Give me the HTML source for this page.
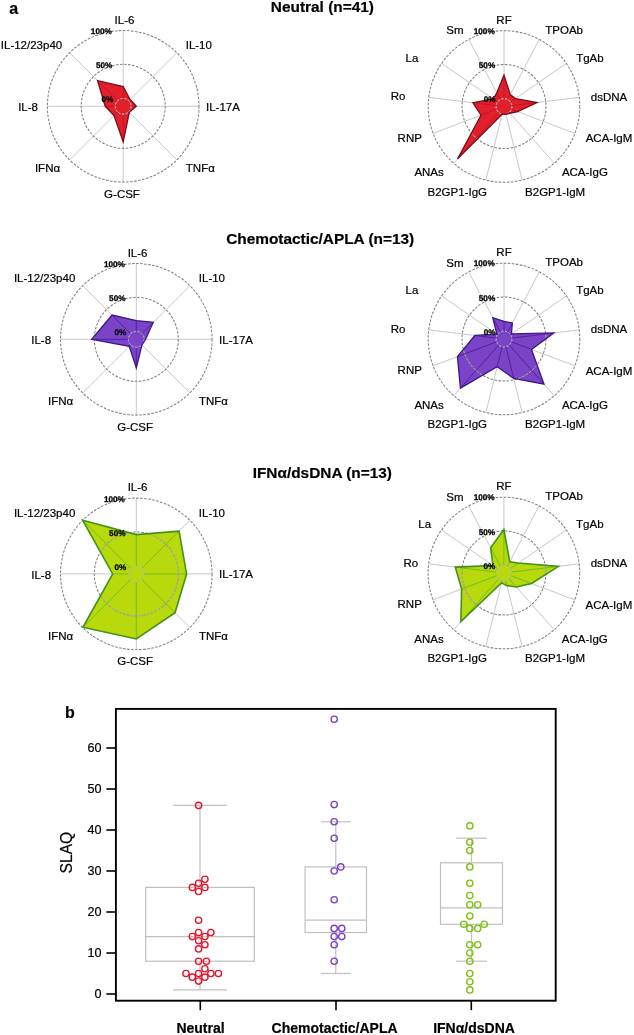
<!DOCTYPE html>
<html><head><meta charset="utf-8"><title>Figure</title>
<style>
html,body{margin:0;padding:0;background:#fff;}
body{width:634px;height:1035px;overflow:hidden;font-family:"Liberation Sans",sans-serif;}
svg{display:block;will-change:transform;}
text{font-family:"Liberation Sans",sans-serif;fill:#000;stroke:#000;stroke-width:0.2px;}
.lb{font-size:11.5px;}
.tk{font-size:8.2px;font-weight:bold;stroke-width:0.28px;text-rendering:geometricPrecision;}
.tt{font-size:15.4px;font-weight:bold;}
.pl{font-size:16px;font-weight:bold;}
.ax{font-size:12.6px;}
.xl{font-size:14px;font-weight:bold;}
.yl{font-size:15.6px;}
</style></head><body>
<svg width="634" height="1035" viewBox="0 0 634 1035">
<rect width="634" height="1035" fill="#fff"/>
<line x1="123.20" y1="98.40" x2="123.20" y2="30.50" stroke="#c8c8c8" stroke-width="1"/>
<line x1="128.79" y1="100.71" x2="176.80" y2="52.70" stroke="#c8c8c8" stroke-width="1"/>
<line x1="131.10" y1="106.30" x2="199.00" y2="106.30" stroke="#c8c8c8" stroke-width="1"/>
<line x1="128.79" y1="111.89" x2="176.80" y2="159.90" stroke="#c8c8c8" stroke-width="1"/>
<line x1="123.20" y1="114.20" x2="123.20" y2="182.10" stroke="#c8c8c8" stroke-width="1"/>
<line x1="117.61" y1="111.89" x2="69.60" y2="159.90" stroke="#c8c8c8" stroke-width="1"/>
<line x1="115.30" y1="106.30" x2="47.40" y2="106.30" stroke="#c8c8c8" stroke-width="1"/>
<line x1="117.61" y1="100.71" x2="69.60" y2="52.70" stroke="#c8c8c8" stroke-width="1"/>
<clipPath id="c123_106"><polygon points="123.20,86.50 130.06,99.44 136.30,106.30 129.28,112.38 123.20,141.90 114.01,115.49 105.30,106.30 97.53,80.63"/></clipPath>
<polygon points="123.20,86.50 130.06,99.44 136.30,106.30 129.28,112.38 123.20,141.90 114.01,115.49 105.30,106.30 97.53,80.63" fill="#e2202c" stroke="none"/>
<g clip-path="url(#c123_106)">
<line x1="123.20" y1="98.40" x2="123.20" y2="30.50" stroke="#c51426" stroke-width="1"/>
<line x1="128.79" y1="100.71" x2="176.80" y2="52.70" stroke="#c51426" stroke-width="1"/>
<line x1="131.10" y1="106.30" x2="199.00" y2="106.30" stroke="#c51426" stroke-width="1"/>
<line x1="128.79" y1="111.89" x2="176.80" y2="159.90" stroke="#c51426" stroke-width="1"/>
<line x1="123.20" y1="114.20" x2="123.20" y2="182.10" stroke="#c51426" stroke-width="1"/>
<line x1="117.61" y1="111.89" x2="69.60" y2="159.90" stroke="#c51426" stroke-width="1"/>
<line x1="115.30" y1="106.30" x2="47.40" y2="106.30" stroke="#c51426" stroke-width="1"/>
<line x1="117.61" y1="100.71" x2="69.60" y2="52.70" stroke="#c51426" stroke-width="1"/>
</g>
<circle cx="123.20" cy="106.30" r="42.0" fill="none" stroke="#808080" stroke-width="1.05" stroke-dasharray="2.6 1.45"/>
<circle cx="123.20" cy="106.30" r="75.8" fill="none" stroke="#808080" stroke-width="1.05" stroke-dasharray="2.6 1.45"/>
<circle cx="123.20" cy="106.30" r="7.9" fill="none" stroke="#b8b8b8" stroke-width="0.9" stroke-dasharray="2.2 1.6"/>
<g clip-path="url(#c123_106)">
<circle cx="123.20" cy="106.30" r="7.9" fill="none" stroke="#b9acba" stroke-width="1" stroke-dasharray="2.2 1.6"/>
<circle cx="123.20" cy="106.30" r="42.0" fill="none" stroke="#b9acba" stroke-width="1" stroke-dasharray="2.6 1.45"/>
<circle cx="123.20" cy="106.30" r="75.8" fill="none" stroke="#b9acba" stroke-width="1" stroke-dasharray="2.6 1.45"/>
</g>
<polygon points="123.20,86.50 130.06,99.44 136.30,106.30 129.28,112.38 123.20,141.90 114.01,115.49 105.30,106.30 97.53,80.63" fill="none" stroke="#7c0c1c" stroke-width="1.3" stroke-linejoin="miter"/>
<text x="111.8" y="33.89999999999999" text-anchor="end" class="tk">100%</text>
<text x="112.4" y="68.0" text-anchor="end" class="tk">50%</text>
<text x="113.3" y="102.1" text-anchor="end" class="tk">0%</text>
<text x="124.5" y="23.799999999999997" text-anchor="middle" class="lb">IL-6</text>
<text x="185.7" y="49.099999999999994" text-anchor="start" class="lb">IL-10</text>
<text x="206.0" y="110.8" text-anchor="start" class="lb">IL-17A</text>
<text x="185.8" y="172.39999999999998" text-anchor="start" class="lb">TNFα</text>
<text x="122.0" y="197.6" text-anchor="middle" class="lb">G-CSF</text>
<text x="60.1" y="172.39999999999998" text-anchor="end" class="lb">IFNα</text>
<text x="38.0" y="110.89999999999999" text-anchor="end" class="lb">IL-8</text>
<text x="62.2" y="49.0" text-anchor="end" class="lb">IL-12/23p40</text>
<line x1="504.00" y1="98.60" x2="504.00" y2="30.70" stroke="#c8c8c8" stroke-width="1"/>
<line x1="507.67" y1="99.50" x2="539.23" y2="39.38" stroke="#c8c8c8" stroke-width="1"/>
<line x1="510.50" y1="102.01" x2="566.38" y2="63.44" stroke="#c8c8c8" stroke-width="1"/>
<line x1="511.84" y1="105.55" x2="579.25" y2="97.36" stroke="#c8c8c8" stroke-width="1"/>
<line x1="511.39" y1="109.30" x2="574.87" y2="133.38" stroke="#c8c8c8" stroke-width="1"/>
<line x1="509.24" y1="112.41" x2="554.26" y2="163.24" stroke="#c8c8c8" stroke-width="1"/>
<line x1="505.89" y1="114.17" x2="522.14" y2="180.10" stroke="#c8c8c8" stroke-width="1"/>
<line x1="502.11" y1="114.17" x2="485.86" y2="180.10" stroke="#c8c8c8" stroke-width="1"/>
<line x1="498.76" y1="112.41" x2="453.74" y2="163.24" stroke="#c8c8c8" stroke-width="1"/>
<line x1="496.61" y1="109.30" x2="433.13" y2="133.38" stroke="#c8c8c8" stroke-width="1"/>
<line x1="496.16" y1="105.55" x2="428.75" y2="97.36" stroke="#c8c8c8" stroke-width="1"/>
<line x1="497.50" y1="102.01" x2="441.62" y2="63.44" stroke="#c8c8c8" stroke-width="1"/>
<line x1="500.33" y1="99.50" x2="468.77" y2="39.38" stroke="#c8c8c8" stroke-width="1"/>
<clipPath id="c504_106"><polygon points="504.00,75.10 510.23,94.63 515.44,98.60 537.06,102.49 517.65,111.68 509.97,113.24 505.91,114.27 502.09,114.27 457.58,158.90 481.00,115.22 472.93,102.73 493.14,99.00 496.84,92.86"/></clipPath>
<polygon points="504.00,75.10 510.23,94.63 515.44,98.60 537.06,102.49 517.65,111.68 509.97,113.24 505.91,114.27 502.09,114.27 457.58,158.90 481.00,115.22 472.93,102.73 493.14,99.00 496.84,92.86" fill="#e2202c" stroke="none"/>
<g clip-path="url(#c504_106)">
<line x1="504.00" y1="98.60" x2="504.00" y2="30.70" stroke="#c51426" stroke-width="1"/>
<line x1="507.67" y1="99.50" x2="539.23" y2="39.38" stroke="#c51426" stroke-width="1"/>
<line x1="510.50" y1="102.01" x2="566.38" y2="63.44" stroke="#c51426" stroke-width="1"/>
<line x1="511.84" y1="105.55" x2="579.25" y2="97.36" stroke="#c51426" stroke-width="1"/>
<line x1="511.39" y1="109.30" x2="574.87" y2="133.38" stroke="#c51426" stroke-width="1"/>
<line x1="509.24" y1="112.41" x2="554.26" y2="163.24" stroke="#c51426" stroke-width="1"/>
<line x1="505.89" y1="114.17" x2="522.14" y2="180.10" stroke="#c51426" stroke-width="1"/>
<line x1="502.11" y1="114.17" x2="485.86" y2="180.10" stroke="#c51426" stroke-width="1"/>
<line x1="498.76" y1="112.41" x2="453.74" y2="163.24" stroke="#c51426" stroke-width="1"/>
<line x1="496.61" y1="109.30" x2="433.13" y2="133.38" stroke="#c51426" stroke-width="1"/>
<line x1="496.16" y1="105.55" x2="428.75" y2="97.36" stroke="#c51426" stroke-width="1"/>
<line x1="497.50" y1="102.01" x2="441.62" y2="63.44" stroke="#c51426" stroke-width="1"/>
<line x1="500.33" y1="99.50" x2="468.77" y2="39.38" stroke="#c51426" stroke-width="1"/>
</g>
<circle cx="504.00" cy="106.50" r="42.0" fill="none" stroke="#808080" stroke-width="1.05" stroke-dasharray="2.6 1.45"/>
<circle cx="504.00" cy="106.50" r="75.8" fill="none" stroke="#808080" stroke-width="1.05" stroke-dasharray="2.6 1.45"/>
<circle cx="504.00" cy="106.50" r="7.9" fill="none" stroke="#b8b8b8" stroke-width="0.9" stroke-dasharray="2.2 1.6"/>
<g clip-path="url(#c504_106)">
<circle cx="504.00" cy="106.50" r="7.9" fill="none" stroke="#b9acba" stroke-width="1" stroke-dasharray="2.2 1.6"/>
<circle cx="504.00" cy="106.50" r="42.0" fill="none" stroke="#b9acba" stroke-width="1" stroke-dasharray="2.6 1.45"/>
<circle cx="504.00" cy="106.50" r="75.8" fill="none" stroke="#b9acba" stroke-width="1" stroke-dasharray="2.6 1.45"/>
</g>
<polygon points="504.00,75.10 510.23,94.63 515.44,98.60 537.06,102.49 517.65,111.68 509.97,113.24 505.91,114.27 502.09,114.27 457.58,158.90 481.00,115.22 472.93,102.73 493.14,99.00 496.84,92.86" fill="none" stroke="#7c0c1c" stroke-width="1.3" stroke-linejoin="miter"/>
<text x="494.7" y="33.900000000000006" text-anchor="end" class="tk">100%</text>
<text x="495.2" y="68.2" text-anchor="end" class="tk">50%</text>
<text x="495.5" y="102.1" text-anchor="end" class="tk">0%</text>
<text x="504.0" y="23.599999999999994" text-anchor="middle" class="lb">RF</text>
<text x="545.3" y="33.5" text-anchor="start" class="lb">TPOAb</text>
<text x="576.2" y="61.6" text-anchor="start" class="lb">TgAb</text>
<text x="590.8" y="100.5" text-anchor="start" class="lb">dsDNA</text>
<text x="585.7" y="142.0" text-anchor="start" class="lb">ACA-IgM</text>
<text x="561.9" y="176.0" text-anchor="start" class="lb">ACA-IgG</text>
<text x="525.1" y="195.9" text-anchor="start" class="lb">B2GP1-IgM</text>
<text x="487.0" y="195.5" text-anchor="end" class="lb">B2GP1-IgG</text>
<text x="443.8" y="176.0" text-anchor="end" class="lb">ANAs</text>
<text x="421.9" y="141.5" text-anchor="end" class="lb">RNP</text>
<text x="405.5" y="100.2" text-anchor="end" class="lb">Ro</text>
<text x="418.4" y="61.5" text-anchor="end" class="lb">La</text>
<text x="463.6" y="34.0" text-anchor="end" class="lb">Sm</text>
<line x1="136.30" y1="331.40" x2="136.30" y2="263.50" stroke="#c8c8c8" stroke-width="1"/>
<line x1="141.89" y1="333.71" x2="189.90" y2="285.70" stroke="#c8c8c8" stroke-width="1"/>
<line x1="144.20" y1="339.30" x2="212.10" y2="339.30" stroke="#c8c8c8" stroke-width="1"/>
<line x1="141.89" y1="344.89" x2="189.90" y2="392.90" stroke="#c8c8c8" stroke-width="1"/>
<line x1="136.30" y1="347.20" x2="136.30" y2="415.10" stroke="#c8c8c8" stroke-width="1"/>
<line x1="130.71" y1="344.89" x2="82.70" y2="392.90" stroke="#c8c8c8" stroke-width="1"/>
<line x1="128.40" y1="339.30" x2="60.50" y2="339.30" stroke="#c8c8c8" stroke-width="1"/>
<line x1="130.71" y1="333.71" x2="82.70" y2="285.70" stroke="#c8c8c8" stroke-width="1"/>
<clipPath id="c136_339"><polygon points="136.30,320.60 153.20,322.40 145.60,339.30 141.96,344.96 136.30,367.90 129.23,346.37 91.70,339.30 112.05,315.05"/></clipPath>
<polygon points="136.30,320.60 153.20,322.40 145.60,339.30 141.96,344.96 136.30,367.90 129.23,346.37 91.70,339.30 112.05,315.05" fill="#7a43c8" stroke="none"/>
<g clip-path="url(#c136_339)">
<line x1="136.30" y1="331.40" x2="136.30" y2="263.50" stroke="#5220a4" stroke-width="1"/>
<line x1="141.89" y1="333.71" x2="189.90" y2="285.70" stroke="#5220a4" stroke-width="1"/>
<line x1="144.20" y1="339.30" x2="212.10" y2="339.30" stroke="#5220a4" stroke-width="1"/>
<line x1="141.89" y1="344.89" x2="189.90" y2="392.90" stroke="#5220a4" stroke-width="1"/>
<line x1="136.30" y1="347.20" x2="136.30" y2="415.10" stroke="#5220a4" stroke-width="1"/>
<line x1="130.71" y1="344.89" x2="82.70" y2="392.90" stroke="#5220a4" stroke-width="1"/>
<line x1="128.40" y1="339.30" x2="60.50" y2="339.30" stroke="#5220a4" stroke-width="1"/>
<line x1="130.71" y1="333.71" x2="82.70" y2="285.70" stroke="#5220a4" stroke-width="1"/>
</g>
<circle cx="136.30" cy="339.30" r="42.0" fill="none" stroke="#808080" stroke-width="1.05" stroke-dasharray="2.6 1.45"/>
<circle cx="136.30" cy="339.30" r="75.8" fill="none" stroke="#808080" stroke-width="1.05" stroke-dasharray="2.6 1.45"/>
<circle cx="136.30" cy="339.30" r="7.9" fill="none" stroke="#b8b8b8" stroke-width="0.9" stroke-dasharray="2.2 1.6"/>
<g clip-path="url(#c136_339)">
<circle cx="136.30" cy="339.30" r="7.9" fill="none" stroke="#a9aa8e" stroke-width="1" stroke-dasharray="2.2 1.6"/>
<circle cx="136.30" cy="339.30" r="42.0" fill="none" stroke="#a9aa8e" stroke-width="1" stroke-dasharray="2.6 1.45"/>
<circle cx="136.30" cy="339.30" r="75.8" fill="none" stroke="#a9aa8e" stroke-width="1" stroke-dasharray="2.6 1.45"/>
</g>
<polygon points="136.30,320.60 153.20,322.40 145.60,339.30 141.96,344.96 136.30,367.90 129.23,346.37 91.70,339.30 112.05,315.05" fill="none" stroke="#3d1585" stroke-width="1.3" stroke-linejoin="miter"/>
<text x="124.9" y="266.9" text-anchor="end" class="tk">100%</text>
<text x="125.50000000000001" y="301.0" text-anchor="end" class="tk">50%</text>
<text x="126.4" y="335.1" text-anchor="end" class="tk">0%</text>
<text x="137.60000000000002" y="256.8" text-anchor="middle" class="lb">IL-6</text>
<text x="198.8" y="282.1" text-anchor="start" class="lb">IL-10</text>
<text x="219.10000000000002" y="343.8" text-anchor="start" class="lb">IL-17A</text>
<text x="198.9" y="405.4" text-anchor="start" class="lb">TNFα</text>
<text x="135.10000000000002" y="430.6" text-anchor="middle" class="lb">G-CSF</text>
<text x="73.20000000000002" y="405.4" text-anchor="end" class="lb">IFNα</text>
<text x="51.10000000000001" y="343.90000000000003" text-anchor="end" class="lb">IL-8</text>
<text x="75.30000000000001" y="282.0" text-anchor="end" class="lb">IL-12/23p40</text>
<line x1="504.00" y1="331.10" x2="504.00" y2="263.20" stroke="#c8c8c8" stroke-width="1"/>
<line x1="507.67" y1="332.00" x2="539.23" y2="271.88" stroke="#c8c8c8" stroke-width="1"/>
<line x1="510.50" y1="334.51" x2="566.38" y2="295.94" stroke="#c8c8c8" stroke-width="1"/>
<line x1="511.84" y1="338.05" x2="579.25" y2="329.86" stroke="#c8c8c8" stroke-width="1"/>
<line x1="511.39" y1="341.80" x2="574.87" y2="365.88" stroke="#c8c8c8" stroke-width="1"/>
<line x1="509.24" y1="344.91" x2="554.26" y2="395.74" stroke="#c8c8c8" stroke-width="1"/>
<line x1="505.89" y1="346.67" x2="522.14" y2="412.60" stroke="#c8c8c8" stroke-width="1"/>
<line x1="502.11" y1="346.67" x2="485.86" y2="412.60" stroke="#c8c8c8" stroke-width="1"/>
<line x1="498.76" y1="344.91" x2="453.74" y2="395.74" stroke="#c8c8c8" stroke-width="1"/>
<line x1="496.61" y1="341.80" x2="433.13" y2="365.88" stroke="#c8c8c8" stroke-width="1"/>
<line x1="496.16" y1="338.05" x2="428.75" y2="329.86" stroke="#c8c8c8" stroke-width="1"/>
<line x1="497.50" y1="334.51" x2="441.62" y2="295.94" stroke="#c8c8c8" stroke-width="1"/>
<line x1="500.33" y1="332.00" x2="468.77" y2="271.88" stroke="#c8c8c8" stroke-width="1"/>
<clipPath id="c504_339"><polygon points="504.00,321.30 512.37,323.06 511.41,333.89 553.83,332.95 531.49,349.43 543.99,384.14 513.72,378.42 497.18,366.67 460.43,388.18 457.44,356.66 474.91,335.47 496.84,334.06 492.80,317.66"/></clipPath>
<polygon points="504.00,321.30 512.37,323.06 511.41,333.89 553.83,332.95 531.49,349.43 543.99,384.14 513.72,378.42 497.18,366.67 460.43,388.18 457.44,356.66 474.91,335.47 496.84,334.06 492.80,317.66" fill="#7a43c8" stroke="none"/>
<g clip-path="url(#c504_339)">
<line x1="504.00" y1="331.10" x2="504.00" y2="263.20" stroke="#5220a4" stroke-width="1"/>
<line x1="507.67" y1="332.00" x2="539.23" y2="271.88" stroke="#5220a4" stroke-width="1"/>
<line x1="510.50" y1="334.51" x2="566.38" y2="295.94" stroke="#5220a4" stroke-width="1"/>
<line x1="511.84" y1="338.05" x2="579.25" y2="329.86" stroke="#5220a4" stroke-width="1"/>
<line x1="511.39" y1="341.80" x2="574.87" y2="365.88" stroke="#5220a4" stroke-width="1"/>
<line x1="509.24" y1="344.91" x2="554.26" y2="395.74" stroke="#5220a4" stroke-width="1"/>
<line x1="505.89" y1="346.67" x2="522.14" y2="412.60" stroke="#5220a4" stroke-width="1"/>
<line x1="502.11" y1="346.67" x2="485.86" y2="412.60" stroke="#5220a4" stroke-width="1"/>
<line x1="498.76" y1="344.91" x2="453.74" y2="395.74" stroke="#5220a4" stroke-width="1"/>
<line x1="496.61" y1="341.80" x2="433.13" y2="365.88" stroke="#5220a4" stroke-width="1"/>
<line x1="496.16" y1="338.05" x2="428.75" y2="329.86" stroke="#5220a4" stroke-width="1"/>
<line x1="497.50" y1="334.51" x2="441.62" y2="295.94" stroke="#5220a4" stroke-width="1"/>
<line x1="500.33" y1="332.00" x2="468.77" y2="271.88" stroke="#5220a4" stroke-width="1"/>
</g>
<circle cx="504.00" cy="339.00" r="42.0" fill="none" stroke="#808080" stroke-width="1.05" stroke-dasharray="2.6 1.45"/>
<circle cx="504.00" cy="339.00" r="75.8" fill="none" stroke="#808080" stroke-width="1.05" stroke-dasharray="2.6 1.45"/>
<circle cx="504.00" cy="339.00" r="7.9" fill="none" stroke="#b8b8b8" stroke-width="0.9" stroke-dasharray="2.2 1.6"/>
<g clip-path="url(#c504_339)">
<circle cx="504.00" cy="339.00" r="7.9" fill="none" stroke="#a9aa8e" stroke-width="1" stroke-dasharray="2.2 1.6"/>
<circle cx="504.00" cy="339.00" r="42.0" fill="none" stroke="#a9aa8e" stroke-width="1" stroke-dasharray="2.6 1.45"/>
<circle cx="504.00" cy="339.00" r="75.8" fill="none" stroke="#a9aa8e" stroke-width="1" stroke-dasharray="2.6 1.45"/>
</g>
<polygon points="504.00,321.30 512.37,323.06 511.41,333.89 553.83,332.95 531.49,349.43 543.99,384.14 513.72,378.42 497.18,366.67 460.43,388.18 457.44,356.66 474.91,335.47 496.84,334.06 492.80,317.66" fill="none" stroke="#3d1585" stroke-width="1.3" stroke-linejoin="miter"/>
<text x="494.7" y="266.4" text-anchor="end" class="tk">100%</text>
<text x="495.2" y="300.7" text-anchor="end" class="tk">50%</text>
<text x="495.5" y="334.6" text-anchor="end" class="tk">0%</text>
<text x="504.0" y="256.1" text-anchor="middle" class="lb">RF</text>
<text x="545.3" y="266.0" text-anchor="start" class="lb">TPOAb</text>
<text x="576.2" y="294.1" text-anchor="start" class="lb">TgAb</text>
<text x="590.8" y="333.0" text-anchor="start" class="lb">dsDNA</text>
<text x="585.7" y="374.5" text-anchor="start" class="lb">ACA-IgM</text>
<text x="561.9" y="408.5" text-anchor="start" class="lb">ACA-IgG</text>
<text x="525.1" y="428.4" text-anchor="start" class="lb">B2GP1-IgM</text>
<text x="487.0" y="428.0" text-anchor="end" class="lb">B2GP1-IgG</text>
<text x="443.8" y="408.5" text-anchor="end" class="lb">ANAs</text>
<text x="421.9" y="374.0" text-anchor="end" class="lb">RNP</text>
<text x="405.5" y="332.7" text-anchor="end" class="lb">Ro</text>
<text x="418.4" y="294.0" text-anchor="end" class="lb">La</text>
<text x="463.6" y="266.5" text-anchor="end" class="lb">Sm</text>
<line x1="136.30" y1="566.00" x2="136.30" y2="498.10" stroke="#c8c8c8" stroke-width="1"/>
<line x1="141.89" y1="568.31" x2="189.90" y2="520.30" stroke="#c8c8c8" stroke-width="1"/>
<line x1="144.20" y1="573.90" x2="212.10" y2="573.90" stroke="#c8c8c8" stroke-width="1"/>
<line x1="141.89" y1="579.49" x2="189.90" y2="627.50" stroke="#c8c8c8" stroke-width="1"/>
<line x1="136.30" y1="581.80" x2="136.30" y2="649.70" stroke="#c8c8c8" stroke-width="1"/>
<line x1="130.71" y1="579.49" x2="82.70" y2="627.50" stroke="#c8c8c8" stroke-width="1"/>
<line x1="128.40" y1="573.90" x2="60.50" y2="573.90" stroke="#c8c8c8" stroke-width="1"/>
<line x1="130.71" y1="568.31" x2="82.70" y2="520.30" stroke="#c8c8c8" stroke-width="1"/>
<clipPath id="c136_573"><polygon points="136.30,534.60 179.08,531.12 186.60,573.90 175.05,612.65 136.30,639.00 82.91,627.29 112.70,573.90 82.63,520.23"/></clipPath>
<polygon points="136.30,534.60 179.08,531.12 186.60,573.90 175.05,612.65 136.30,639.00 82.91,627.29 112.70,573.90 82.63,520.23" fill="#b8d90c" stroke="none"/>
<g clip-path="url(#c136_573)">
<line x1="136.30" y1="566.00" x2="136.30" y2="498.10" stroke="#72bf1c" stroke-width="1"/>
<line x1="141.89" y1="568.31" x2="189.90" y2="520.30" stroke="#72bf1c" stroke-width="1"/>
<line x1="144.20" y1="573.90" x2="212.10" y2="573.90" stroke="#72bf1c" stroke-width="1"/>
<line x1="141.89" y1="579.49" x2="189.90" y2="627.50" stroke="#72bf1c" stroke-width="1"/>
<line x1="136.30" y1="581.80" x2="136.30" y2="649.70" stroke="#72bf1c" stroke-width="1"/>
<line x1="130.71" y1="579.49" x2="82.70" y2="627.50" stroke="#72bf1c" stroke-width="1"/>
<line x1="128.40" y1="573.90" x2="60.50" y2="573.90" stroke="#72bf1c" stroke-width="1"/>
<line x1="130.71" y1="568.31" x2="82.70" y2="520.30" stroke="#72bf1c" stroke-width="1"/>
</g>
<circle cx="136.30" cy="573.90" r="42.0" fill="none" stroke="#808080" stroke-width="1.05" stroke-dasharray="2.6 1.45"/>
<circle cx="136.30" cy="573.90" r="75.8" fill="none" stroke="#808080" stroke-width="1.05" stroke-dasharray="2.6 1.45"/>
<circle cx="136.30" cy="573.90" r="7.9" fill="none" stroke="#b8b8b8" stroke-width="0.9" stroke-dasharray="2.2 1.6"/>
<g clip-path="url(#c136_573)">
<circle cx="136.30" cy="573.90" r="7.9" fill="none" stroke="#b2b6ba" stroke-width="1" stroke-dasharray="2.2 1.6"/>
<circle cx="136.30" cy="573.90" r="42.0" fill="none" stroke="#b2b6ba" stroke-width="1" stroke-dasharray="2.6 1.45"/>
<circle cx="136.30" cy="573.90" r="75.8" fill="none" stroke="#b2b6ba" stroke-width="1" stroke-dasharray="2.6 1.45"/>
</g>
<polygon points="136.30,534.60 179.08,531.12 186.60,573.90 175.05,612.65 136.30,639.00 82.91,627.29 112.70,573.90 82.63,520.23" fill="none" stroke="#43921a" stroke-width="1.6" stroke-linejoin="miter"/>
<text x="124.9" y="501.5" text-anchor="end" class="tk">100%</text>
<text x="125.50000000000001" y="535.6" text-anchor="end" class="tk">50%</text>
<text x="126.4" y="569.6999999999999" text-anchor="end" class="tk">0%</text>
<text x="137.60000000000002" y="491.4" text-anchor="middle" class="lb">IL-6</text>
<text x="198.8" y="516.6999999999999" text-anchor="start" class="lb">IL-10</text>
<text x="219.10000000000002" y="578.4" text-anchor="start" class="lb">IL-17A</text>
<text x="198.9" y="640.0" text-anchor="start" class="lb">TNFα</text>
<text x="135.10000000000002" y="665.1999999999999" text-anchor="middle" class="lb">G-CSF</text>
<text x="73.20000000000002" y="640.0" text-anchor="end" class="lb">IFNα</text>
<text x="51.10000000000001" y="578.5" text-anchor="end" class="lb">IL-8</text>
<text x="75.30000000000001" y="516.6" text-anchor="end" class="lb">IL-12/23p40</text>
<line x1="503.90" y1="565.10" x2="503.90" y2="497.20" stroke="#c8c8c8" stroke-width="1"/>
<line x1="507.57" y1="566.00" x2="539.13" y2="505.88" stroke="#c8c8c8" stroke-width="1"/>
<line x1="510.40" y1="568.51" x2="566.28" y2="529.94" stroke="#c8c8c8" stroke-width="1"/>
<line x1="511.74" y1="572.05" x2="579.15" y2="563.86" stroke="#c8c8c8" stroke-width="1"/>
<line x1="511.29" y1="575.80" x2="574.77" y2="599.88" stroke="#c8c8c8" stroke-width="1"/>
<line x1="509.14" y1="578.91" x2="554.16" y2="629.74" stroke="#c8c8c8" stroke-width="1"/>
<line x1="505.79" y1="580.67" x2="522.04" y2="646.60" stroke="#c8c8c8" stroke-width="1"/>
<line x1="502.01" y1="580.67" x2="485.76" y2="646.60" stroke="#c8c8c8" stroke-width="1"/>
<line x1="498.66" y1="578.91" x2="453.64" y2="629.74" stroke="#c8c8c8" stroke-width="1"/>
<line x1="496.51" y1="575.80" x2="433.03" y2="599.88" stroke="#c8c8c8" stroke-width="1"/>
<line x1="496.06" y1="572.05" x2="428.65" y2="563.86" stroke="#c8c8c8" stroke-width="1"/>
<line x1="497.40" y1="568.51" x2="441.52" y2="529.94" stroke="#c8c8c8" stroke-width="1"/>
<line x1="500.23" y1="566.00" x2="468.67" y2="505.88" stroke="#c8c8c8" stroke-width="1"/>
<clipPath id="c503_573"><polygon points="503.90,529.50 509.76,561.84 518.30,563.06 558.40,566.38 531.58,583.50 516.30,587.00 507.01,585.62 501.46,582.90 460.86,621.58 461.64,589.03 455.26,567.09 492.95,565.44 490.61,547.68"/></clipPath>
<polygon points="503.90,529.50 509.76,561.84 518.30,563.06 558.40,566.38 531.58,583.50 516.30,587.00 507.01,585.62 501.46,582.90 460.86,621.58 461.64,589.03 455.26,567.09 492.95,565.44 490.61,547.68" fill="#b8d90c" stroke="none"/>
<g clip-path="url(#c503_573)">
<line x1="503.90" y1="565.10" x2="503.90" y2="497.20" stroke="#72bf1c" stroke-width="1"/>
<line x1="507.57" y1="566.00" x2="539.13" y2="505.88" stroke="#72bf1c" stroke-width="1"/>
<line x1="510.40" y1="568.51" x2="566.28" y2="529.94" stroke="#72bf1c" stroke-width="1"/>
<line x1="511.74" y1="572.05" x2="579.15" y2="563.86" stroke="#72bf1c" stroke-width="1"/>
<line x1="511.29" y1="575.80" x2="574.77" y2="599.88" stroke="#72bf1c" stroke-width="1"/>
<line x1="509.14" y1="578.91" x2="554.16" y2="629.74" stroke="#72bf1c" stroke-width="1"/>
<line x1="505.79" y1="580.67" x2="522.04" y2="646.60" stroke="#72bf1c" stroke-width="1"/>
<line x1="502.01" y1="580.67" x2="485.76" y2="646.60" stroke="#72bf1c" stroke-width="1"/>
<line x1="498.66" y1="578.91" x2="453.64" y2="629.74" stroke="#72bf1c" stroke-width="1"/>
<line x1="496.51" y1="575.80" x2="433.03" y2="599.88" stroke="#72bf1c" stroke-width="1"/>
<line x1="496.06" y1="572.05" x2="428.65" y2="563.86" stroke="#72bf1c" stroke-width="1"/>
<line x1="497.40" y1="568.51" x2="441.52" y2="529.94" stroke="#72bf1c" stroke-width="1"/>
<line x1="500.23" y1="566.00" x2="468.67" y2="505.88" stroke="#72bf1c" stroke-width="1"/>
</g>
<circle cx="503.90" cy="573.00" r="42.0" fill="none" stroke="#808080" stroke-width="1.05" stroke-dasharray="2.6 1.45"/>
<circle cx="503.90" cy="573.00" r="75.8" fill="none" stroke="#808080" stroke-width="1.05" stroke-dasharray="2.6 1.45"/>
<circle cx="503.90" cy="573.00" r="7.9" fill="none" stroke="#b8b8b8" stroke-width="0.9" stroke-dasharray="2.2 1.6"/>
<g clip-path="url(#c503_573)">
<circle cx="503.90" cy="573.00" r="7.9" fill="none" stroke="#b2b6ba" stroke-width="1" stroke-dasharray="2.2 1.6"/>
<circle cx="503.90" cy="573.00" r="42.0" fill="none" stroke="#b2b6ba" stroke-width="1" stroke-dasharray="2.6 1.45"/>
<circle cx="503.90" cy="573.00" r="75.8" fill="none" stroke="#b2b6ba" stroke-width="1" stroke-dasharray="2.6 1.45"/>
</g>
<polygon points="503.90,529.50 509.76,561.84 518.30,563.06 558.40,566.38 531.58,583.50 516.30,587.00 507.01,585.62 501.46,582.90 460.86,621.58 461.64,589.03 455.26,567.09 492.95,565.44 490.61,547.68" fill="none" stroke="#43921a" stroke-width="1.6" stroke-linejoin="miter"/>
<text x="494.59999999999997" y="500.4" text-anchor="end" class="tk">100%</text>
<text x="495.09999999999997" y="534.7" text-anchor="end" class="tk">50%</text>
<text x="495.4" y="568.6" text-anchor="end" class="tk">0%</text>
<text x="503.9" y="490.1" text-anchor="middle" class="lb">RF</text>
<text x="545.1999999999999" y="500.0" text-anchor="start" class="lb">TPOAb</text>
<text x="576.1" y="528.1" text-anchor="start" class="lb">TgAb</text>
<text x="590.6999999999999" y="567.0" text-anchor="start" class="lb">dsDNA</text>
<text x="585.6" y="608.5" text-anchor="start" class="lb">ACA-IgM</text>
<text x="561.8" y="642.5" text-anchor="start" class="lb">ACA-IgG</text>
<text x="525.0" y="662.4" text-anchor="start" class="lb">B2GP1-IgM</text>
<text x="486.9" y="662.0" text-anchor="end" class="lb">B2GP1-IgG</text>
<text x="443.7" y="642.5" text-anchor="end" class="lb">ANAs</text>
<text x="421.79999999999995" y="608.0" text-anchor="end" class="lb">RNP</text>
<text x="418.2" y="566.7" text-anchor="end" class="lb">Ro</text>
<text x="431.09999999999997" y="528.0" text-anchor="end" class="lb">La</text>
<text x="463.5" y="500.5" text-anchor="end" class="lb">Sm</text>
<text x="373.9" y="12.3" text-anchor="end" class="tt">Neutral (n=41)</text>
<text x="414.2" y="244.0" text-anchor="end" class="tt">Chemotactic/APLA (n=13)</text>
<text x="392.0" y="478.4" text-anchor="end" class="tt">IFNα/dsDNA (n=13)</text>
<text x="9.3" y="14.1" class="pl">a</text>
<text x="65" y="717.6" class="pl">b</text>
<rect x="115.9" y="708.9" width="439.80000000000007" height="291.80000000000007" fill="none" stroke="#000" stroke-width="1.9"/>
<line x1="106.4" y1="994.0" x2="115.9" y2="994.0" stroke="#000" stroke-width="1.6"/>
<text x="101.5" y="998.2" text-anchor="end" class="ax">0</text>
<line x1="106.4" y1="953.0" x2="115.9" y2="953.0" stroke="#000" stroke-width="1.6"/>
<text x="101.5" y="957.2" text-anchor="end" class="ax">10</text>
<line x1="106.4" y1="912.0" x2="115.9" y2="912.0" stroke="#000" stroke-width="1.6"/>
<text x="101.5" y="916.2" text-anchor="end" class="ax">20</text>
<line x1="106.4" y1="871.0" x2="115.9" y2="871.0" stroke="#000" stroke-width="1.6"/>
<text x="101.5" y="875.2" text-anchor="end" class="ax">30</text>
<line x1="106.4" y1="830.0" x2="115.9" y2="830.0" stroke="#000" stroke-width="1.6"/>
<text x="101.5" y="834.2" text-anchor="end" class="ax">40</text>
<line x1="106.4" y1="789.0" x2="115.9" y2="789.0" stroke="#000" stroke-width="1.6"/>
<text x="101.5" y="793.2" text-anchor="end" class="ax">50</text>
<line x1="106.4" y1="748.0" x2="115.9" y2="748.0" stroke="#000" stroke-width="1.6"/>
<text x="101.5" y="752.2" text-anchor="end" class="ax">60</text>
<line x1="200.3" y1="1000.7" x2="200.3" y2="1010.2" stroke="#000" stroke-width="1.6"/>
<line x1="336.0" y1="1000.7" x2="336.0" y2="1010.2" stroke="#000" stroke-width="1.6"/>
<line x1="471.3" y1="1000.7" x2="471.3" y2="1010.2" stroke="#000" stroke-width="1.6"/>
<text x="200.5" y="1032.5" text-anchor="middle" class="xl">Neutral</text>
<text x="334.6" y="1032.5" text-anchor="middle" class="xl">Chemotactic/APLA</text>
<text x="474.0" y="1032.5" text-anchor="middle" class="xl">IFNα/dsDNA</text>
<text transform="translate(71.6,852.6) rotate(-90)" text-anchor="middle" class="yl">SLAQ</text>
<rect x="145.7" y="887.4" width="108.6" height="73.80000000000007" stroke="#c2bfbf" stroke-width="1.2" fill="none"/>
<line x1="145.7" y1="936.6" x2="254.3" y2="936.6" stroke="#c2bfbf" stroke-width="1.2" fill="none"/>
<line x1="200.0" y1="805.4" x2="200.0" y2="887.4" stroke="#c2bfbf" stroke-width="1.2" fill="none"/>
<line x1="200.0" y1="961.2" x2="200.0" y2="989.9" stroke="#c2bfbf" stroke-width="1.2" fill="none"/>
<line x1="173.0" y1="805.4" x2="227.0" y2="805.4" stroke="#c2bfbf" stroke-width="1.2" fill="none"/>
<line x1="173.0" y1="989.9" x2="227.0" y2="989.9" stroke="#c2bfbf" stroke-width="1.2" fill="none"/>
<rect x="305.1" y="866.9" width="61.4" height="65.60000000000002" stroke="#c2bfbf" stroke-width="1.2" fill="none"/>
<line x1="305.1" y1="920.2" x2="366.5" y2="920.2" stroke="#c2bfbf" stroke-width="1.2" fill="none"/>
<line x1="335.8" y1="821.8" x2="335.8" y2="866.9" stroke="#c2bfbf" stroke-width="1.2" fill="none"/>
<line x1="335.8" y1="932.5" x2="335.8" y2="973.5" stroke="#c2bfbf" stroke-width="1.2" fill="none"/>
<line x1="320.7" y1="821.8" x2="350.90000000000003" y2="821.8" stroke="#c2bfbf" stroke-width="1.2" fill="none"/>
<line x1="320.7" y1="973.5" x2="350.90000000000003" y2="973.5" stroke="#c2bfbf" stroke-width="1.2" fill="none"/>
<rect x="440.5" y="862.8" width="62.0" height="61.5" stroke="#c2bfbf" stroke-width="1.2" fill="none"/>
<line x1="440.5" y1="907.9" x2="502.5" y2="907.9" stroke="#c2bfbf" stroke-width="1.2" fill="none"/>
<line x1="471.5" y1="838.2" x2="471.5" y2="862.8" stroke="#c2bfbf" stroke-width="1.2" fill="none"/>
<line x1="471.5" y1="924.3" x2="471.5" y2="961.2" stroke="#c2bfbf" stroke-width="1.2" fill="none"/>
<line x1="456.2" y1="838.2" x2="486.8" y2="838.2" stroke="#c2bfbf" stroke-width="1.2" fill="none"/>
<line x1="456.2" y1="961.2" x2="486.8" y2="961.2" stroke="#c2bfbf" stroke-width="1.2" fill="none"/>
<circle cx="198.60" cy="805.40" r="3.15" fill="none" stroke="#e0142c" stroke-width="1.35"/>
<circle cx="204.90" cy="879.20" r="3.15" fill="none" stroke="#e0142c" stroke-width="1.35"/>
<circle cx="198.60" cy="883.30" r="3.15" fill="none" stroke="#e0142c" stroke-width="1.35"/>
<circle cx="192.30" cy="887.40" r="3.15" fill="none" stroke="#e0142c" stroke-width="1.35"/>
<circle cx="204.90" cy="887.40" r="3.15" fill="none" stroke="#e0142c" stroke-width="1.35"/>
<circle cx="198.60" cy="891.50" r="3.15" fill="none" stroke="#e0142c" stroke-width="1.35"/>
<circle cx="198.60" cy="920.20" r="3.15" fill="none" stroke="#e0142c" stroke-width="1.35"/>
<circle cx="210.88" cy="932.50" r="3.15" fill="none" stroke="#e0142c" stroke-width="1.35"/>
<circle cx="198.60" cy="932.50" r="3.15" fill="none" stroke="#e0142c" stroke-width="1.35"/>
<circle cx="192.30" cy="936.60" r="3.15" fill="none" stroke="#e0142c" stroke-width="1.35"/>
<circle cx="204.90" cy="936.60" r="3.15" fill="none" stroke="#e0142c" stroke-width="1.35"/>
<circle cx="198.60" cy="940.70" r="3.15" fill="none" stroke="#e0142c" stroke-width="1.35"/>
<circle cx="204.90" cy="944.80" r="3.15" fill="none" stroke="#e0142c" stroke-width="1.35"/>
<circle cx="198.60" cy="948.90" r="3.15" fill="none" stroke="#e0142c" stroke-width="1.35"/>
<circle cx="198.60" cy="961.20" r="3.15" fill="none" stroke="#e0142c" stroke-width="1.35"/>
<circle cx="206.47" cy="961.20" r="3.15" fill="none" stroke="#e0142c" stroke-width="1.35"/>
<circle cx="204.90" cy="968.78" r="3.15" fill="none" stroke="#e0142c" stroke-width="1.35"/>
<circle cx="186.00" cy="973.50" r="3.15" fill="none" stroke="#e0142c" stroke-width="1.35"/>
<circle cx="198.60" cy="973.50" r="3.15" fill="none" stroke="#e0142c" stroke-width="1.35"/>
<circle cx="210.88" cy="973.50" r="3.15" fill="none" stroke="#e0142c" stroke-width="1.35"/>
<circle cx="218.44" cy="973.50" r="3.15" fill="none" stroke="#e0142c" stroke-width="1.35"/>
<circle cx="192.30" cy="977.19" r="3.15" fill="none" stroke="#e0142c" stroke-width="1.35"/>
<circle cx="204.90" cy="977.19" r="3.15" fill="none" stroke="#e0142c" stroke-width="1.35"/>
<circle cx="198.60" cy="981.09" r="3.15" fill="none" stroke="#e0142c" stroke-width="1.35"/>
<circle cx="334.20" cy="719.30" r="3.15" fill="none" stroke="#7b3fc6" stroke-width="1.35"/>
<circle cx="334.20" cy="804.58" r="3.15" fill="none" stroke="#7b3fc6" stroke-width="1.35"/>
<circle cx="334.20" cy="821.80" r="3.15" fill="none" stroke="#7b3fc6" stroke-width="1.35"/>
<circle cx="334.20" cy="838.20" r="3.15" fill="none" stroke="#7b3fc6" stroke-width="1.35"/>
<circle cx="340.81" cy="866.90" r="3.15" fill="none" stroke="#7b3fc6" stroke-width="1.35"/>
<circle cx="334.20" cy="871.00" r="3.15" fill="none" stroke="#7b3fc6" stroke-width="1.35"/>
<circle cx="334.20" cy="899.70" r="3.15" fill="none" stroke="#7b3fc6" stroke-width="1.35"/>
<circle cx="334.20" cy="928.40" r="3.15" fill="none" stroke="#7b3fc6" stroke-width="1.35"/>
<circle cx="341.76" cy="928.40" r="3.15" fill="none" stroke="#7b3fc6" stroke-width="1.35"/>
<circle cx="334.20" cy="936.60" r="3.15" fill="none" stroke="#7b3fc6" stroke-width="1.35"/>
<circle cx="341.76" cy="936.60" r="3.15" fill="none" stroke="#7b3fc6" stroke-width="1.35"/>
<circle cx="334.20" cy="944.80" r="3.15" fill="none" stroke="#7b3fc6" stroke-width="1.35"/>
<circle cx="334.20" cy="961.20" r="3.15" fill="none" stroke="#7b3fc6" stroke-width="1.35"/>
<circle cx="469.80" cy="825.90" r="3.15" fill="none" stroke="#7cc010" stroke-width="1.35"/>
<circle cx="469.80" cy="842.30" r="3.15" fill="none" stroke="#7cc010" stroke-width="1.35"/>
<circle cx="469.80" cy="850.50" r="3.15" fill="none" stroke="#7cc010" stroke-width="1.35"/>
<circle cx="469.80" cy="866.90" r="3.15" fill="none" stroke="#7cc010" stroke-width="1.35"/>
<circle cx="469.80" cy="883.30" r="3.15" fill="none" stroke="#7cc010" stroke-width="1.35"/>
<circle cx="469.80" cy="895.60" r="3.15" fill="none" stroke="#7cc010" stroke-width="1.35"/>
<circle cx="469.80" cy="904.83" r="3.15" fill="none" stroke="#7cc010" stroke-width="1.35"/>
<circle cx="477.68" cy="904.83" r="3.15" fill="none" stroke="#7cc010" stroke-width="1.35"/>
<circle cx="469.80" cy="916.10" r="3.15" fill="none" stroke="#7cc010" stroke-width="1.35"/>
<circle cx="463.81" cy="924.30" r="3.15" fill="none" stroke="#7cc010" stroke-width="1.35"/>
<circle cx="484.29" cy="924.30" r="3.15" fill="none" stroke="#7cc010" stroke-width="1.35"/>
<circle cx="469.80" cy="928.40" r="3.15" fill="none" stroke="#7cc010" stroke-width="1.35"/>
<circle cx="477.68" cy="928.40" r="3.15" fill="none" stroke="#7cc010" stroke-width="1.35"/>
<circle cx="469.80" cy="944.80" r="3.15" fill="none" stroke="#7cc010" stroke-width="1.35"/>
<circle cx="477.68" cy="944.80" r="3.15" fill="none" stroke="#7cc010" stroke-width="1.35"/>
<circle cx="469.80" cy="953.00" r="3.15" fill="none" stroke="#7cc010" stroke-width="1.35"/>
<circle cx="469.80" cy="961.20" r="3.15" fill="none" stroke="#7cc010" stroke-width="1.35"/>
<circle cx="469.80" cy="973.50" r="3.15" fill="none" stroke="#7cc010" stroke-width="1.35"/>
<circle cx="469.80" cy="981.70" r="3.15" fill="none" stroke="#7cc010" stroke-width="1.35"/>
<circle cx="469.80" cy="989.90" r="3.15" fill="none" stroke="#7cc010" stroke-width="1.35"/>
</svg>
</body></html>
